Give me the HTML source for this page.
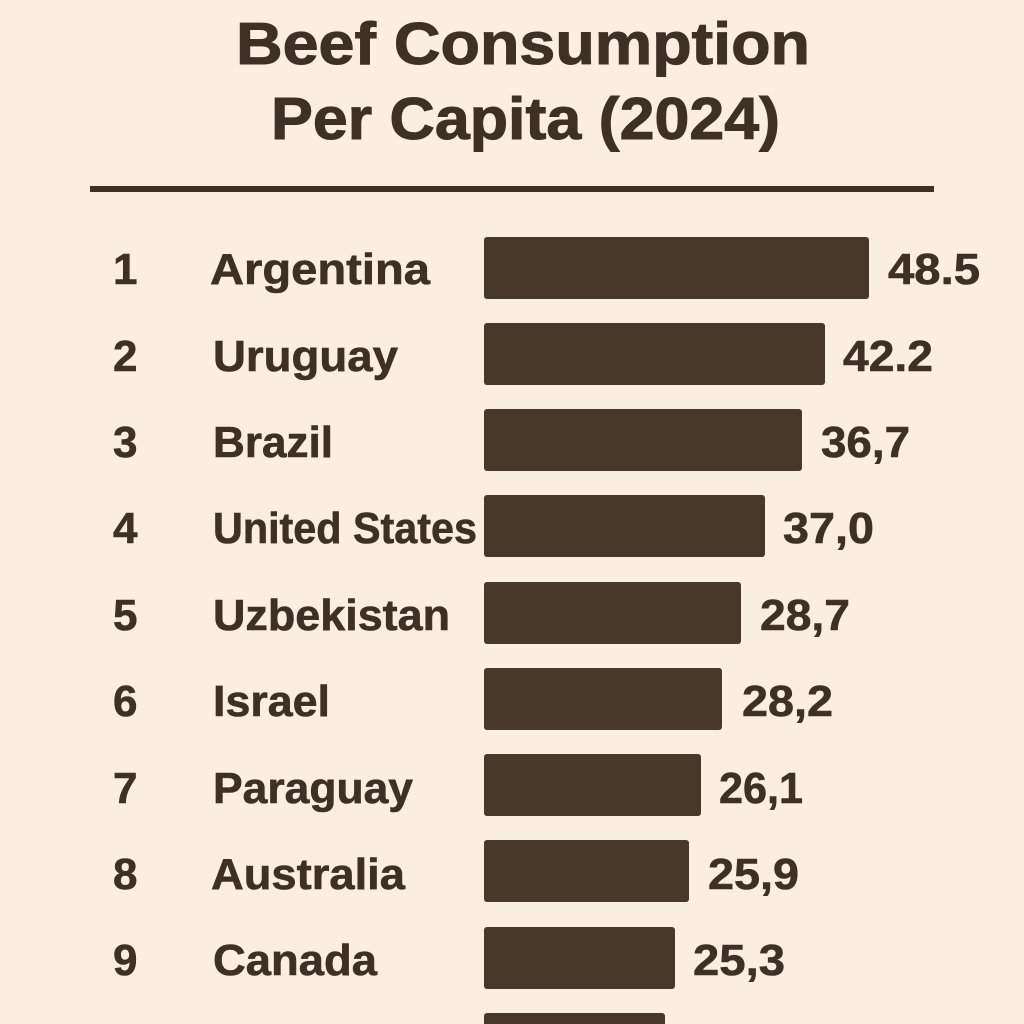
<!DOCTYPE html>
<html>
<head>
<meta charset="utf-8">
<style>
  html, body { margin: 0; padding: 0; background: #f9eee0; }
  svg { display: block; }
  text { font-family: "Liberation Sans", "DejaVu Sans", sans-serif; font-weight: bold; fill: #3d3024; stroke: #3d3024; stroke-width: 0.6; }
  .title { stroke-width: 1; }
</style>
</head>
<body>
<svg width="1024" height="1024" viewBox="0 0 1024 1024" xmlns="http://www.w3.org/2000/svg">
  <rect x="0" y="0" width="1024" height="1024" fill="#f9eee0"/>

  <!-- Title -->
  <text class="title" x="236" y="64" font-size="59" textLength="574" lengthAdjust="spacingAndGlyphs">Beef Consumption</text>
  <text class="title" x="271" y="139" font-size="59" textLength="509" lengthAdjust="spacingAndGlyphs">Per Capita (2024)</text>

  <!-- Rule -->
  <rect x="90" y="186" width="844" height="6" fill="#3d3024"/>

  <!-- Bars -->
  <g fill="#483829">
    <rect x="484" y="237" width="385" height="62" rx="3"/>
    <rect x="484" y="323" width="341" height="62" rx="3"/>
    <rect x="484" y="409" width="318" height="62" rx="3"/>
    <rect x="484" y="495" width="281" height="62" rx="3"/>
    <rect x="484" y="582" width="257" height="62" rx="3"/>
    <rect x="484" y="668" width="238" height="62" rx="3"/>
    <rect x="484" y="754" width="217" height="62" rx="3"/>
    <rect x="484" y="840" width="205" height="62" rx="3"/>
    <rect x="484" y="927" width="191" height="62" rx="3"/>
    <rect x="484" y="1013" width="181" height="62" rx="3"/>
  </g>

  <!-- Ranks -->
  <g font-size="44">
    <text x="113" y="284">1</text>
    <text x="113" y="371">2</text>
    <text x="113" y="457">3</text>
    <text x="113" y="543">4</text>
    <text x="113" y="630">5</text>
    <text x="113" y="716">6</text>
    <text x="113" y="803">7</text>
    <text x="113" y="889">8</text>
    <text x="113" y="975">9</text>
  </g>

  <!-- Country labels -->
  <g font-size="44">
    <text x="210" y="284" textLength="220" lengthAdjust="spacingAndGlyphs">Argentina</text>
    <text x="213" y="371" textLength="185" lengthAdjust="spacingAndGlyphs">Uruguay</text>
    <text x="213" y="457" textLength="120" lengthAdjust="spacingAndGlyphs">Brazil</text>
    <text x="213" y="543" textLength="264" lengthAdjust="spacingAndGlyphs">United States</text>
    <text x="213" y="630" textLength="237" lengthAdjust="spacingAndGlyphs">Uzbekistan</text>
    <text x="213" y="716" textLength="117" lengthAdjust="spacingAndGlyphs">Israel</text>
    <text x="213" y="803" textLength="200" lengthAdjust="spacingAndGlyphs">Paraguay</text>
    <text x="211" y="889" textLength="194" lengthAdjust="spacingAndGlyphs">Australia</text>
    <text x="213" y="975" textLength="164" lengthAdjust="spacingAndGlyphs">Canada</text>
  </g>

  <!-- Values -->
  <g font-size="44">
    <text x="888" y="284" textLength="92" lengthAdjust="spacingAndGlyphs">48.5</text>
    <text x="843" y="371" textLength="90" lengthAdjust="spacingAndGlyphs">42.2</text>
    <text x="821" y="457" textLength="89" lengthAdjust="spacingAndGlyphs">36,7</text>
    <text x="783" y="543" textLength="91" lengthAdjust="spacingAndGlyphs">37,0</text>
    <text x="760" y="630" textLength="90" lengthAdjust="spacingAndGlyphs">28,7</text>
    <text x="742" y="716" textLength="91" lengthAdjust="spacingAndGlyphs">28,2</text>
    <text x="719" y="803" textLength="84" lengthAdjust="spacingAndGlyphs">26,1</text>
    <text x="708" y="889" textLength="91" lengthAdjust="spacingAndGlyphs">25,9</text>
    <text x="693" y="975" textLength="92" lengthAdjust="spacingAndGlyphs">25,3</text>
  </g>
</svg>
</body>
</html>
